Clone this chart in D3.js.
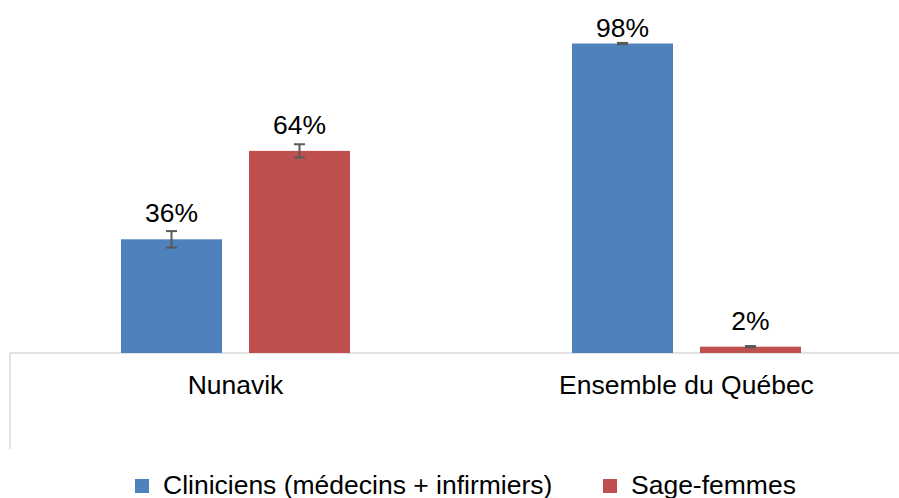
<!DOCTYPE html>
<html>
<head>
<meta charset="utf-8">
<script src="https://cdn.jsdelivr.net/npm/d3@7/dist/d3.min.js"></script>
<style>
  html, body { margin: 0; padding: 0; background: #fff; }
  svg { display: block; font-family: "Liberation Sans", Arial, sans-serif; }
</style>
</head>
<body>
<svg id="chart" width="899" height="498"></svg>
<script>
const categories = ["Nunavik", "Ensemble du Québec"];
const seriesNames = ["Cliniciens (médecins + infirmiers)", "Sage-femmes"];
const cliniciens = [36, 98];
const sageFemmes = [64, 2];
const cliniciensErr = [2.6, 0.2];
const sageFemmesErr = [2.1, 0.2];
const colors = ["#4F81BD", "#C0504D"];

const seriesValues = [cliniciens, sageFemmes];
const seriesErr = [cliniciensErr, sageFemmesErr];

const svg = d3.select("#chart");
const baseY = 353;
const fs = 25, sx = 1.06;

const x0 = d3.scaleBand().domain(categories).range([10, 912]).paddingInner(0).paddingOuter(0);
const groupW = 229;
const groupOff = (x0.bandwidth() - groupW) / 2;
const x1 = d3.scaleBand().domain([0, 1]).range([0, groupW]).paddingInner(27 / 128).paddingOuter(0);
const y = d3.scaleLinear().domain([0, 100]).range([baseY, 37.2]);

// axis line
svg.append("line").attr("x1", 10).attr("x2", 899).attr("y1", baseY).attr("y2", baseY)
  .attr("stroke", "#d9d9d9").attr("stroke-width", 1.5);
svg.append("line").attr("x1", 10).attr("x2", 10).attr("y1", baseY).attr("y2", 449)
  .attr("stroke", "#d9d9d9").attr("stroke-width", 1.5);

const data = [];
categories.forEach((c, ci) => {
  seriesValues.forEach((vals, si) => {
    data.push({ cat: c, s: si, v: vals[ci], e: seriesErr[si][ci] });
  });
});
const cx = d => x0(d.cat) + groupOff + x1(d.s) + x1.bandwidth() / 2;

const g = svg.append("g");
g.selectAll("rect.bar").data(data).join("rect")
  .attr("class", "bar")
  .attr("x", d => x0(d.cat) + groupOff + x1(d.s))
  .attr("width", x1.bandwidth())
  .attr("y", d => y(d.v))
  .attr("height", d => baseY - y(d.v))
  .attr("fill", d => colors[d.s]);

// error bars
const eg = g.selectAll("g.err").data(data).join("g").attr("class", "err")
  .attr("stroke", "#595959").attr("stroke-width", 2);
eg.append("line")
  .attr("x1", cx).attr("x2", cx)
  .attr("y1", d => y(d.v + d.e)).attr("y2", d => y(d.v - d.e));
[1, -1].forEach(sign => {
  eg.append("line")
    .attr("x1", d => cx(d) - 5.5)
    .attr("x2", d => cx(d) + 5.5)
    .attr("y1", d => y(d.v + sign * d.e)).attr("y2", d => y(d.v + sign * d.e));
});

// value labels
g.selectAll("text.val").data(data).join("text")
  .attr("class", "val")
  .attr("transform", d => `translate(${cx(d)},${Math.max(y(d.v) - 17, 36.7)}) scale(${sx},1)`)
  .attr("text-anchor", "middle")
  .attr("font-size", fs)
  .attr("fill", "#000")
  .text(d => d.v + "%");

// category labels
svg.selectAll("text.cat").data(categories).join("text")
  .attr("class", "cat")
  .attr("transform", d => `translate(${x0(d) + x0.bandwidth() / 2},394) scale(${sx},1)`)
  .attr("text-anchor", "middle")
  .attr("font-size", fs)
  .attr("fill", "#000")
  .text(d => d);

// legend
const legendX = [135, 603];
const lg = svg.selectAll("g.leg").data(seriesNames).join("g").attr("class", "leg")
  .attr("transform", (d, i) => `translate(${legendX[i]},0)`);
lg.append("rect").attr("x", 0).attr("y", 479).attr("width", 14).attr("height", 14)
  .attr("fill", (d, i) => colors[i]);
lg.append("text").attr("transform", `translate(28,494) scale(${sx},1)`)
  .attr("font-size", fs).attr("fill", "#000")
  .text(d => d);
</script>
</body>
</html>
